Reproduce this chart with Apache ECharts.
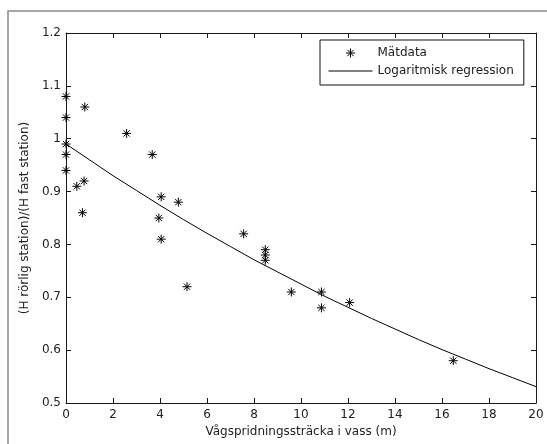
<!DOCTYPE html>
<html>
<head>
<meta charset="utf-8">
<script src="https://cdn.jsdelivr.net/npm/echarts@6/dist/echarts.min.js"></script>
<style>
  html, body { margin: 0; padding: 0; background: #fff; }
  #chart { width: 547px; height: 444px; }
</style>
</head>
<body>
<div id="chart"></div>
<script>
// Measured wave-height ratio against distance travelled through reeds
const xMeas = [0, 0, 0, 0, 0, 0.46, 0.7, 0.77, 0.8, 2.58, 3.67, 3.95, 4.05, 4.05, 4.78, 5.15, 7.56, 8.48, 8.48, 8.48, 9.59, 10.87, 10.87, 12.07, 16.48];
const yMeas = [1.08, 1.04, 0.99, 0.97, 0.94, 0.91, 0.86, 0.92, 1.06, 1.01, 0.97, 0.85, 0.89, 0.81, 0.88, 0.72, 0.82, 0.79, 0.78, 0.77, 0.71, 0.71, 0.68, 0.69, 0.58];

// Fitted regression curve
const xFit = [0, 1, 2, 3, 4, 5, 6, 7, 8, 9, 10, 11, 12, 13, 14, 15, 16, 17, 18, 19, 20];
const yFit = [0.99, 0.96, 0.93, 0.902, 0.874, 0.847, 0.821, 0.796, 0.771, 0.748, 0.725, 0.702, 0.681, 0.66, 0.64, 0.62, 0.601, 0.583, 0.565, 0.548, 0.531];

// Axis ticks
const xTicks = { min: 0, max: 20, step: 2 };
const yTicks = { min: 0.5, max: 1.2, step: 0.1 };

const seriesNames = ['Mätdata', 'Logaritmisk regression'];
const xTitle = 'Vågspridningssträcka i vass (m)';
const yTitle = '(H rörlig station)/(H fast station)';

const FONT = 'DejaVu Sans';
const AX = '#1a1a1a';
const STAR = 'path://M0,-1L0,1M-1,0L1,0M-0.7,-0.7L0.7,0.7M-0.7,0.7L0.7,-0.7';

function baseAxis(t) {
  return {
    type: 'value', min: t.min, max: t.max, interval: t.step,
    axisLine: { show: true, onZero: false, lineStyle: { color: AX, width: 1 } },
    axisTick: { show: true, inside: true, length: 5, lineStyle: { color: AX, width: 1 } },
    splitLine: { show: false },
    axisLabel: { show: true, color: '#222', fontFamily: FONT, fontSize: 12 }
  };
}

const xBottom = Object.assign(baseAxis(xTicks), {
  position: 'bottom', name: xTitle, nameLocation: 'middle', nameGap: 22,
  nameTextStyle: { color: '#222', fontFamily: FONT, fontSize: 12 }
});
xBottom.axisLabel.margin = 6;
const xTop = Object.assign(baseAxis(xTicks), { position: 'top' });
xTop.axisLabel = { show: false };

const yLeft = Object.assign(baseAxis(yTicks), {
  position: 'left', name: yTitle, nameLocation: 'middle', nameGap: 21,
  nameTextStyle: { color: '#222', fontFamily: FONT, fontSize: 12 }
});
yLeft.axisLabel.margin = 5;
const yRight = Object.assign(baseAxis(yTicks), { position: 'right' });
yRight.axisLabel = { show: false };

const chart = echarts.init(document.getElementById('chart'), null, { renderer: 'canvas' });
chart.setOption({
  backgroundColor: '#fff',
  animation: false,
  grid: { left: 66, top: 33, right: 11, bottom: 41, containLabel: false },
  graphic: [{
    type: 'rect', silent: true, z: -1,
    shape: { x: 8, y: 11, width: 600, height: 500 },
    style: { fill: 'none', stroke: '#8a8a8a', lineWidth: 1.5 }
  }],
  legend: {
    orient: 'vertical', left: 320, top: 40,
    padding: [7, 10, 8, 8], itemGap: 6,
    itemWidth: 44, itemHeight: 9,
    borderColor: '#111', borderWidth: 1, backgroundColor: '#fff',
    textStyle: { color: '#222', fontFamily: FONT, fontSize: 12 },
    data: [
      { name: seriesNames[0], itemStyle: { color: '#000', borderColor: '#000', borderWidth: 1 } },
      { name: seriesNames[1], itemStyle: { opacity: 0 }, lineStyle: { color: '#000', width: 1 } }
    ]
  },
  xAxis: [xBottom, xTop],
  yAxis: [yLeft, yRight],
  series: [
    {
      name: seriesNames[1], type: 'line', xAxisIndex: 0, yAxisIndex: 0,
      data: xFit.map((x, i) => [x, yFit[i]]),
      symbol: 'none', smooth: false,
      lineStyle: { color: '#000', width: 1 },
      itemStyle: { color: '#000' }, z: 2
    },
    {
      name: seriesNames[0], type: 'scatter', xAxisIndex: 0, yAxisIndex: 0,
      data: xMeas.map((x, i) => [x, yMeas[i]]),
      symbol: STAR, symbolSize: 9,
      itemStyle: { color: '#000', borderColor: '#000', borderWidth: 1, opacity: 1 }, z: 3
    }
  ]
});
</script>
</body>
</html>
